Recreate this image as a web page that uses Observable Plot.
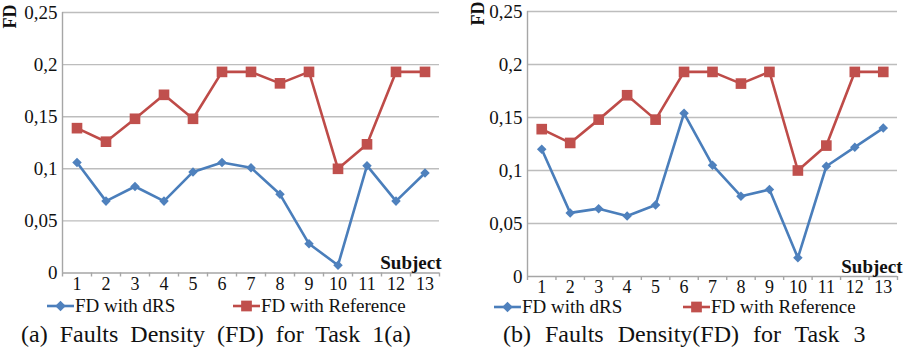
<!DOCTYPE html>
<html><head><meta charset="utf-8">
<script src="https://cdn.jsdelivr.net/npm/d3@7"></script>
<script src="https://cdn.jsdelivr.net/npm/@observablehq/plot@0.6"></script>
<style>
body{margin:0;background:#fff;font-family:'Liberation Serif';}
#root{position:relative;width:910px;height:356px;overflow:hidden;font-family:'Liberation Serif';color:#111;background:#fff}
.panel{position:absolute;top:0}
.legend{position:absolute;font-family:'Liberation Serif';font-size:19px;line-height:20px;white-space:nowrap;display:flex;align-items:center}
.legend .sw{display:block;width:27px;height:14px;margin-right:1px}
.caption{position:absolute;font-family:'Liberation Serif';font-size:24px;word-spacing:6px;white-space:nowrap;line-height:26px}
</style></head><body><div id="root">
<div class="legend" style="left:47px;top:296px"><span class="sw" id="sw0a"></span><span>FD with dRS</span></div>
<div class="legend" style="left:233px;top:296px"><span class="sw" id="sw1a"></span><span>FD with Reference</span></div>
<div class="legend" style="left:494px;top:297px"><span class="sw" id="sw0b"></span><span>FD with dRS</span></div>
<div class="legend" style="left:683px;top:297px"><span class="sw" id="sw1b"></span><span>FD with Reference</span></div>
<div class="caption" style="left:21px;top:321px">(a) Faults Density (FD) for Task 1(a)</div>
<div class="caption" style="left:503px;top:321px;word-spacing:8px">(b) Faults Density(FD) for Task 3</div>
</div>
<script>
const subjects = [1,2,3,4,5,6,7,8,9,10,11,12,13];
const yTicks = [0, 0.05, 0.1, 0.15, 0.2, 0.25];
const yTickLabels = ["0", "0,05", "0,1", "0,15", "0,2", "0,25"];
const seriesNames = ["FD with dRS", "FD with Reference"];
const seriesColors = ["#4a7ebb", "#be4b48"];
const markerColors = ["#4f81bd", "#c0504d"];
const task1aDRS = [0.106, 0.069, 0.083, 0.069, 0.097, 0.106, 0.101, 0.0755, 0.028, 0.0075, 0.103, 0.069, 0.096];
const task1aRef = [0.139, 0.126, 0.148, 0.171, 0.148, 0.193, 0.193, 0.182, 0.193, 0.100, 0.1235, 0.193, 0.193];
const task3DRS = [0.120, 0.060, 0.064, 0.057, 0.0675, 0.154, 0.105, 0.0758, 0.082, 0.0176, 0.104, 0.122, 0.140];
const task3Ref = [0.139, 0.126, 0.148, 0.171, 0.148, 0.193, 0.193, 0.182, 0.193, 0.100, 0.1235, 0.193, 0.193];
const xAxisLabel = "Subject";
const yAxisLabel = "FD";

const root = document.getElementById("root");
const SERIF = "'Liberation Serif'";

function makePanel(drs, ref, cfg) {
  const rows = subjects.map((s, i) => ({s, drs: drs[i], ref: ref[i]}));
  const boundaries = [subjects[0] - 0.5, ...subjects.map(s => s + 0.5)];
  const fmt = d => yTickLabels[yTicks.indexOf(d)] ?? String(d);
  const chart = Plot.plot({
    width: cfg.width, height: cfg.height,
    marginLeft: cfg.ml, marginRight: cfg.mr, marginTop: cfg.mt, marginBottom: cfg.mb,
    style: {fontFamily: SERIF, fontSize: "18px", background: "transparent", overflow: "visible"},
    x: {type: "linear", domain: [subjects[0] - 0.5, subjects[subjects.length - 1] + 0.5], label: null},
    y: {domain: [0, 0.25], label: null},
    marks: [
      Plot.gridY(yTicks.slice(1), {stroke: "#bdbdbd", strokeOpacity: 1, strokeWidth: 1.4}),
      Plot.axisY(yTicks, {tickSize: 0, tickPadding: 5, tickFormat: fmt, fontSize: 19}),
      Plot.ruleX([boundaries[0]], {stroke: "#a6a6a6", strokeWidth: 1.4}),
      Plot.ruleY([0], {stroke: "#a6a6a6", strokeWidth: 1.4}),
      Plot.axisX(boundaries, {tickSize: 4, stroke: "#a6a6a6", strokeWidth: 1.4, tickFormat: () => ""}),
      Plot.axisX(subjects, {tickSize: 0, tickPadding: cfg.xpad, fontSize: 18}),
      Plot.line(rows, {x: "s", y: "ref", stroke: seriesColors[1], strokeWidth: 2.6}),
      Plot.line(rows, {x: "s", y: "drs", stroke: seriesColors[0], strokeWidth: 2.6}),
      Plot.dot(rows, {x: "s", y: "ref", symbol: "square", r: 6, fill: markerColors[1], stroke: "none"}),
      Plot.dot(rows, {x: "s", y: "drs", symbol: "diamond2", r: 4.3, fill: markerColors[0], stroke: "none"}),
      Plot.text([xAxisLabel], {frameAnchor: "bottom-right", textAnchor: "end", lineAnchor: "bottom", dx: cfg.sdx, dy: cfg.sdy, fontWeight: "bold", fontSize: 19}),
      Plot.text([yAxisLabel], {frameAnchor: "top-left", rotate: -90, textAnchor: "middle", lineAnchor: "middle", dx: cfg.fdx, dy: cfg.fdy, fontWeight: "bold", fontSize: 18})
    ]
  });
  const wrap = document.createElement("div");
  wrap.className = "panel";
  wrap.style.left = cfg.left + "px";
  wrap.appendChild(chart);
  root.insertBefore(wrap, root.firstChild);
}

function swatch(id, i) {
  const w = 27, h = 14;
  const svg = d3.create("svg").attr("width", w).attr("height", h).style("display", "block");
  svg.append("line").attr("x1", 0).attr("x2", w).attr("y1", h / 2).attr("y2", h / 2)
    .attr("stroke", seriesColors[i]).attr("stroke-width", 2.6);
  const sym = d3.symbol().type(d3.symbolSquare).size(i === 0 ? 55 : 115);
  svg.append("path").attr("d", sym()).attr("transform", `translate(${w / 2},${h / 2})${i === 0 ? " rotate(45)" : ""}`)
    .attr("fill", markerColors[i]);
  document.getElementById(id).appendChild(svg.node());
}

makePanel(task3DRS, task3Ref, {left: 455, width: 455, height: 300, ml: 72, mr: 13, mt: 11, mb: 24, xpad: 4, sdx: 5, sdy: -4, fdx: -49, fdy: 2});
makePanel(task1aDRS, task1aRef, {left: 0, width: 455, height: 300, ml: 62, mr: 16, mt: 12, mb: 27.5, xpad: 4, sdx: 2, sdy: -4, fdx: -52, fdy: 4});

swatch("sw0a", 0); swatch("sw1a", 1); swatch("sw0b", 0); swatch("sw1b", 1);
</script>
</body></html>
